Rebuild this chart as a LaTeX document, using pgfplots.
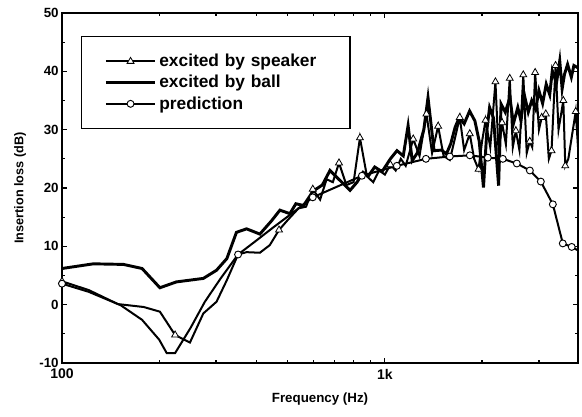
\documentclass[border=0pt]{standalone}
\usepackage{fontspec}
\setmainfont{Liberation Sans}
\usepackage{pgfplots}
\pgfplotsset{compat=1.18}
\usepackage{pgfplotstable}
\usetikzlibrary{calc}

\pgfplotstableread{
f v
100 4.0
121 2.5
149 0.1
179 -0.4
201 -1.2
224 -5.2
249 -6.5
274 -1.5
301 0.5
324 4.2
351 8.6
373 9.0
410 8.9
440 10.2
470 12.8
500 14.5
540 16.5
570 16.8
598 19.8
630 18.0
660 21.5
690 21.0
721 24.3
760 20.5
800 21.0
837 28.6
880 22.0
920 21.0
960 23.0
1000 22.3
1040 24.0
1080 23.0
1120 25.0
1160 23.8
1224 28.4
1280 25.5
1345 32.7
1400 26.0
1462 30.6
1520 25.5
1589 24.8
1640 28.0
1706 32.1
1760 26.5
1832 29.3
1890 25.0
1950 23.2
2000 28.0
2050 31.6
2120 27.0
2200 38.2
2250 26.0
2306 31.2
2370 27.5
2436 38.8
2490 27.0
2545 29.8
2610 26.5
2683 39.4
2750 26.0
2810 28.0
2860 27.0
2920 39.8
3000 30.0
3060 32.1
3150 32.7
3220 25.0
3282 26.4
3378 41.0
3450 30.0
3570 35.0
3620 23.8
3700 25.0
3900 33.1
3965 27.0
}\speaker

\pgfplotstableread{
f v
100 4.0
224 -5.2
470 12.8
598 19.8
721 24.3
837 28.6
1040 24.0
1224 28.4
1345 32.7
1462 30.6
1706 32.1
1832 29.3
1950 23.2
2050 31.6
2200 38.2
2306 31.2
2436 38.8
2545 29.8
2683 39.4
2810 28.0
2920 39.8
3060 32.1
3150 32.7
3282 26.4
3378 41.0
3570 35.0
3620 23.8
3900 33.1
}\speakermarks

\pgfplotstableread{
f v
100 6.2
125 7.0
155 6.9
177 6.2
201 2.9
226 3.9
274 4.5
301 5.9
324 7.9
347 12.4
373 13.0
410 12.1
446 14.4
473 16.2
508 15.6
530 17.3
560 17.0
600 19.5
640 20.5
676 23.0
720 21.5
780 19.6
820 21.0
856 22.7
890 22.1
930 23.6
980 22.8
1040 25.0
1090 26.4
1140 25.5
1180 30.7
1215 24.7
1260 26.0
1320 30.0
1360 35.5
1420 26.4
1500 26.5
1550 25.8
1600 27.6
1650 30.4
1700 32.1
1760 31.0
1830 33.2
1900 31.5
1960 28.0
2020 20.1
2070 30.0
2110 33.8
2170 32.0
2250 20.4
2290 34.4
2360 33.0
2440 35.5
2500 31.0
2580 33.8
2640 31.5
2700 36.1
2780 33.0
2850 35.0
2930 33.5
3000 36.7
3080 34.5
3160 37.8
3240 36.0
3300 40.1
3400 38.0
3480 41.8
3540 37.0
3600 39.5
3680 41.2
3780 39.0
3850 41.0
3965 40.6
}\ball

\pgfplotstableread{
f v
100 3.6
121 2.2
152 -0.1
177 -2.6
200 -6.0
211 -8.3
224 -8.3
250 -4.0
277 0.5
310 4.5
351 8.6
400 11.0
450 13.2
500 15.1
598 18.4
849 22.1
1089 23.8
1340 25.0
1589 25.4
1833 25.6
2084 25.2
2319 25.0
2562 24.2
2812 23.0
3041 21.1
3313 17.2
3557 10.5
3790 9.9
3965 9.3
}\pred

\pgfplotstableread{
f v
100 3.6
351 8.6
598 18.4
849 22.1
1089 23.8
1340 25.0
1589 25.4
1833 25.6
2084 25.2
2319 25.0
2562 24.2
2812 23.0
3041 21.1
3313 17.2
3557 10.5
3790 9.9
}\predmarks

\begin{document}
\begin{tikzpicture}
\begin{axis}[
  name=ax,
  scale only axis,
  width=387pt, height=262.5pt,
  xmode=log,
  xmin=100, xmax=3965,
  ymin=-10, ymax=50,
  xtick={100,1000}, xticklabels={100,1k},
  minor xtick={200,300,400,500,600,700,800,900,2000,3000},
  ytick={-10,0,10,20,30,40,50},
  minor ytick={-5,5,15,25,35,45},
  tick align=inside,
  xtick pos=both, ytick pos=both,
  xticklabel pos=lower, yticklabel pos=left,
  major tick length=4pt, minor tick length=2.5pt,
  every tick/.style={black, line width=0.9pt},
  axis line style={line width=1.2pt},
  /pgf/number format/assume math mode=true,
  xticklabel style={font=\bfseries\fontsize{10.5}{12}\selectfont, yshift=-1pt},
  yticklabel style={font=\bfseries\fontsize{10}{12}\selectfont, xshift=1pt},
  xlabel={Frequency (Hz)},
  ylabel={Insertion loss (dB)},
  xlabel style={font=\bfseries\fontsize{10}{12}\selectfont, at={(axis description cs:0.5,0)}, anchor=north, yshift=-19pt},
  ylabel style={font=\bfseries\fontsize{9.5}{11}\selectfont, at={(axis description cs:0,0.5)}, anchor=center, yshift=31.5pt},
  legend style={at={(axis description cs:0.037,0.934)}, anchor=north west,
    draw=black, line width=1pt, inner xsep=17pt, inner ysep=11pt,
    font=\bfseries\fontsize{13}{15}\selectfont, row sep=1pt,
    nodes={text width=124pt}},
  legend cell align=left,
  legend image code/.code={\draw[mark repeat=2,mark phase=2,#1] plot coordinates {(0cm,0cm) (0.65cm,0cm) (1.3cm,0cm)};},
]
\addplot[black, line width=1.5pt, forget plot] table[x=f,y=v] {\pred};
\addplot[black, line width=1.5pt, forget plot] table[x=f,y=v] {\speaker};
\addplot[black, line width=2.2pt, forget plot] table[x=f,y=v] {\ball};
\addplot[only marks, mark=triangle*, mark size=3pt, mark options={fill=white, draw=black, line width=0.6pt}, forget plot] table[x=f,y=v] {\speakermarks};
\addplot[only marks, mark=*, mark size=2.6pt, mark options={fill=white, draw=black, line width=0.7pt}, forget plot] table[x=f,y=v] {\predmarks};

\addlegendimage{black, line width=1.5pt, mark=triangle*, mark size=3pt, mark options={fill=white, draw=black, line width=0.6pt}}
\addlegendentry{excited by speaker}
\addlegendimage{black, line width=2.2pt}
\addlegendentry{excited by ball}
\addlegendimage{black, line width=1.5pt, mark=*, mark size=2.6pt, mark options={fill=white, draw=black, line width=0.7pt}}
\addlegendentry{prediction}
\end{axis}
\pgfresetboundingbox
\path ($(ax.south west)+(-46.5pt,-40.5pt)$) rectangle ($(ax.north east)+(3pt,9.75pt)$);
\end{tikzpicture}
\end{document}
